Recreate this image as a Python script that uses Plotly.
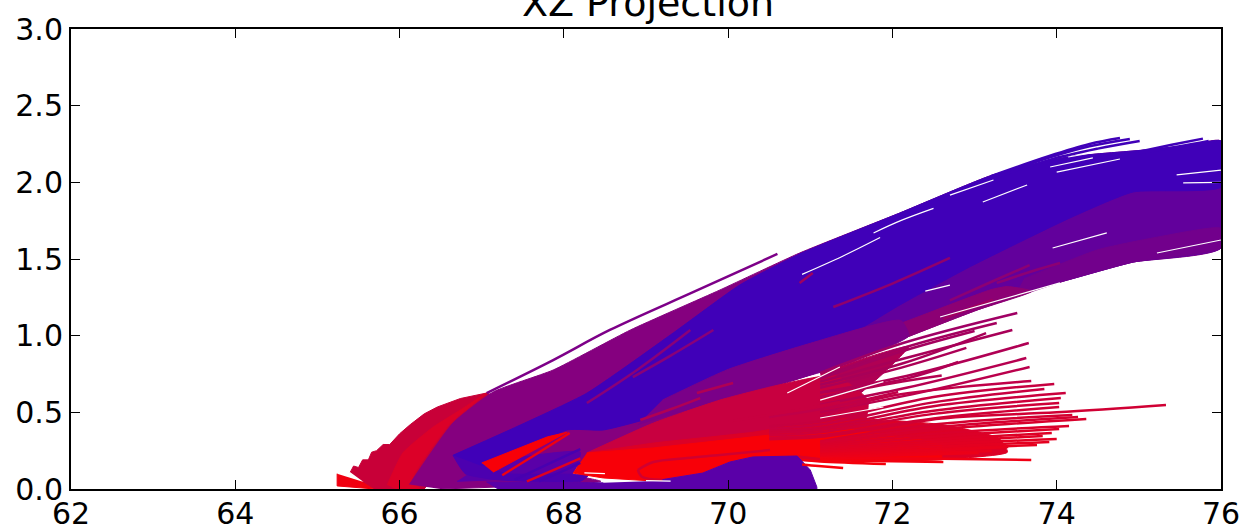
import plotly.graph_objects as go

X_TICKS = [62, 64, 66, 68, 70, 72, 74, 76]
Y_TICKS = [0, 0.5, 1, 1.5, 2, 2.5, 3]
Y_LABELS = ["0.0", "0.5", "1.0", "1.5", "2.0", "2.5", "3.0"]
TITLE = "XZ Projection"

# dense bundles of trajectories
HUMP_X = [65.40, 65.44, 65.50, 65.55, 65.62, 65.66, 65.72, 65.80, 65.88, 66.0, 66.13, 66.30, 66.46, 66.74, 67.06, 67.2, 66.6, 66.3, 65.7, 65.55]
HUMP_Y = [0.11, 0.15, 0.14, 0.19, 0.19, 0.24, 0.25, 0.29, 0.29, 0.36, 0.42, 0.49, 0.535, 0.59, 0.626, 0.6, 0.2, 0.0, 0.0, 0.05]
HUMP_RED_X = [65.85, 66.04, 66.41, 66.74, 67.06, 66.62, 66.15, 66.25, 65.95]
HUMP_RED_Y = [0.026, 0.235, 0.404, 0.515, 0.626, 0.43, 0.06, 0.0, 0.0]
SLIVER_X = [65.24, 65.24, 65.7, 65.72]
SLIVER_Y = [0.10, 0.02, 0.0, 0.02]

MAIN_X = [66.12, 66.65, 67.14, 67.87, 68.81, 69.9, 70.87, 72.09, 73.22, 74.13, 75.05, 75.6, 76, 76, 74.93, 74.13, 73.03, 72.09, 71.36, 69.9, 68.89, 68.3, 68.11, 68.45, 66.5]
MAIN_Y = [0.03, 0.43, 0.633, 0.776, 1.037, 1.298, 1.539, 1.80, 2.048, 2.165, 2.21, 2.24, 2.27, 1.572, 1.48, 1.363, 1.167, 0.972, 0.81, 0.55, 0.38, 0.22, 0.10, 0.05, 0.0]
VIOLET_X = [71.4, 72.09, 72.91, 74.13, 74.93, 76, 76, 74.93, 74.13, 73.6, 73.03, 72.09, 71.36]
VIOLET_Y = [1.0, 1.2, 1.44, 1.76, 1.937, 1.97, 1.572, 1.48, 1.363, 1.30, 1.27, 1.07, 0.92]
DEEP_PURPLE_X = [73.6, 74.5, 75.2, 76, 76, 74.93, 74.13, 73.5]
DEEP_PURPLE_Y = [1.37, 1.56, 1.64, 1.70, 1.572, 1.48, 1.363, 1.27]
BLUE_X = [66.65, 67.4, 68.28, 69.33, 70.14, 70.87, 72.09, 73.22, 74.13, 75.05, 75.6, 76, 76, 74.93, 74.13, 72.91, 72.09, 71.36, 69.9, 69.09, 68.48, 68.04, 67.06, 66.8]
BLUE_Y = [0.22, 0.40, 0.625, 1.017, 1.33, 1.533, 1.80, 2.048, 2.165, 2.21, 2.24, 2.27, 1.97, 1.937, 1.76, 1.44, 1.2, 0.97, 0.66, 0.47, 0.385, 0.385, 0.124, 0.10]
MAGENTA_X = [69.9, 71.36, 72.09, 73.03, 73.7, 73.4, 73.2, 72.1, 70.5]
MAGENTA_Y = [0.60, 0.81, 0.972, 1.167, 1.29, 1.32, 1.3, 1.08, 0.78]
LOW_PURPLE_X = [68.9, 69.9, 71.36, 72.2, 72.1, 71.0, 70.0, 69.2]
LOW_PURPLE_Y = [0.42, 0.58, 0.80, 1.0, 1.1, 0.95, 0.78, 0.58]
PURPLE_FAN_X = [66.7, 67.2, 67.7, 68.1, 68.2, 67.4, 66.9]
PURPLE_FAN_Y = [0.05, 0.06, 0.06, 0.1, 0.24, 0.2, 0.12]
HOOK_X = [66.65, 66.8, 67.2, 68.2, 68.3, 67.3, 67.0]
HOOK_Y = [0.22, 0.10, 0.06, 0.05, 0.09, 0.10, 0.15]

FAN_UPPER_X = [71.12, 71.7, 72.2, 71.9, 71.6, 71.2]
FAN_UPPER_Y = [0.757, 0.86, 0.93, 0.76, 0.62, 0.46]
FAN_TOP_X = [68.28, 69.09, 69.9, 70.63, 71.3, 71.7, 71.6, 70.87, 69.6, 68.6]
FAN_TOP_Y = [0.235, 0.43, 0.58, 0.68, 0.74, 0.58, 0.32, 0.24, 0.24, 0.22]
FAN_MID_X = [68.28, 69.1, 70.3, 71.36, 72.6, 73.3, 73.4, 72.5, 71.12, 70.3]
FAN_MID_Y = [0.235, 0.30, 0.37, 0.46, 0.42, 0.33, 0.24, 0.19, 0.18, 0.2]
FAN_LOW_X = [68.28, 69.09, 70.3, 71.36, 72.6, 72.6, 71.6, 70.87, 70.3, 70.02, 69.69, 69.09, 68.48, 68.11]
FAN_LOW_Y = [0.235, 0.268, 0.34, 0.40, 0.30, 0.19, 0.176, 0.222, 0.209, 0.176, 0.104, 0.052, 0.072, 0.104]
BLOB_X = [69.09, 69.69, 70.02, 70.3, 70.84, 71.0, 71.08, 71.08, 67.2, 67.06, 68.48]
BLOB_Y = [0.052, 0.104, 0.176, 0.209, 0.215, 0.124, 0.013, 0.0, 0.0, 0.046, 0.04]
TRI_X = [67.0, 67.8, 68.04, 67.14]
TRI_Y = [0.17, 0.34, 0.37, 0.11]

# individual trajectories: x values, y values, colour
STROKES = [
    ([67.06, 67.87, 68.56, 69.6, 70.6], [0.626, 0.841, 1.037, 1.29, 1.533], "#7d0088"),
    ([73.2, 73.9, 74.4, 74.77], [2.04, 2.17, 2.25, 2.289], "#4000b8"),
    ([73.2, 73.9, 74.4, 74.89], [2.03, 2.16, 2.235, 2.283], "#4000b8"),
    ([73.2, 73.9, 74.5, 75.01], [2.02, 2.145, 2.22, 2.27], "#4000b8"),
    ([75.0, 75.4, 75.78], [2.2, 2.245, 2.285], "#4000b8"),
    ([75.0, 75.5, 75.85], [2.19, 2.235, 2.27], "#4000b8"),
    ([67.25, 67.7, 68.07], [0.09, 0.24, 0.365], "#f00010"),
    ([67.4, 67.8, 68.2], [0.06, 0.16, 0.26], "#4800b0"),
    ([67.55, 67.9, 68.2], [0.05, 0.13, 0.2], "#e00020"),
    ([67.7, 68.0, 68.2], [0.05, 0.12, 0.17], "#4800b0"),
    ([68.9, 69.09, 69.5, 69.9, 70.51], [0.124, 0.176, 0.202, 0.222, 0.254], "#d00030"),
    ([68.9, 68.95, 69.2], [0.124, 0.08, 0.06], "#d00030"),
    ([68.28, 68.9, 69.54], [0.561, 0.78, 1.037], "#8a0078"),
    ([68.84, 69.3, 69.82], [0.73, 0.87, 1.037], "#8a0078"),
    ([69.62, 70.06], [0.626, 0.691], "#b00054"),
    ([68.93, 69.3, 69.66], [0.45, 0.52, 0.593], "#b00054"),
    ([70.87, 71.03], [1.343, 1.409], "#a00060"),
    ([71.28, 72.0, 72.7], [1.187, 1.34, 1.507], "#90006c"),
    ([72.7, 73.2, 73.67], [1.23, 1.35, 1.46], "#8c0074"),
    ([73.27, 73.7, 74.04], [1.344, 1.42, 1.474], "#8c0074"),
    ([72.62, 72.9, 73.22], [1.109, 1.17, 1.233], "#a00060"),
    # the sparse fan under the main bundle
    ([71.12, 72.13, 73.52], [0.757, 0.952, 1.148], "#a00064"),
    ([71.12, 72.13, 73.27], [0.725, 0.92, 1.083], "#a4005e"),
    ([71.12, 72.13, 73.0], [0.72, 0.90, 1.03], "#a4005e"),
    ([71.12, 72.13, 73.46], [0.70, 0.85, 1.037], "#a80058"),
    ([71.12, 72.13, 73.14], [0.68, 0.82, 1.017], "#a80058"),
    ([71.12, 72.1, 72.9], [0.66, 0.79, 0.92], "#ac0056"),
    ([71.12, 72.17, 73.66], [0.63, 0.737, 0.952], "#b00054"),
    ([71.12, 72.17, 73.63], [0.55, 0.66, 0.854], "#b60050"),
    ([71.12, 72.17, 72.80], [0.63, 0.72, 0.828], "#b00054"),
    ([71.12, 72.0, 72.6], [0.60, 0.69, 0.74], "#b40050"),
    ([71.12, 72.35, 73.67], [0.50, 0.63, 0.796], "#ba004c"),
    ([71.12, 71.92, 73.69], [0.47, 0.60, 0.704], "#c00048"),
    ([70.5, 71.12, 72.07], [0.47, 0.52, 0.633], "#c00048"),
    ([70.5, 71.12, 72.5, 73.97], [0.41, 0.44, 0.60, 0.685], "#c60040"),
    ([70.5, 71.12, 72.5, 73.85], [0.39, 0.42, 0.565, 0.652], "#c80040"),
    ([70.5, 71.12, 72.5, 74.11], [0.38, 0.40, 0.54, 0.626], "#ca003c"),
    ([70.5, 71.12, 72.5, 74.05], [0.365, 0.385, 0.51, 0.593], "#cc003a"),
    ([70.5, 71.12, 72.5, 74.03], [0.35, 0.37, 0.49, 0.561], "#ce0038"),
    ([70.5, 71.12, 72.5, 74.03], [0.335, 0.35, 0.46, 0.535], "#d00036"),
    ([70.5, 71.12, 72.6, 74.0, 75.33], [0.325, 0.34, 0.46, 0.50, 0.548], "#d00034"),
    ([70.0, 70.8, 71.36], [0.44, 0.51, 0.567], "#c80040"),
    ([71.12, 72.5, 74.19], [0.31, 0.42, 0.483], "#d40030"),
    ([71.12, 72.5, 74.26], [0.30, 0.40, 0.470], "#d60030"),
    ([71.12, 72.5, 74.36], [0.29, 0.385, 0.457], "#d8002c"),
    ([71.12, 72.5, 74.15], [0.28, 0.36, 0.411], "#da002a"),
    ([71.12, 72.5, 74.03], [0.27, 0.34, 0.391], "#dc0028"),
    ([71.12, 72.5, 73.94], [0.26, 0.32, 0.365], "#de0026"),
    ([71.12, 72.5, 73.83], [0.25, 0.305, 0.346], "#e00024"),
    ([71.12, 72.5, 74.0], [0.24, 0.29, 0.326], "#e20022"),
    ([71.12, 72.5, 73.91], [0.23, 0.275, 0.307], "#e40020"),
    ([71.12, 72.5, 73.76], [0.225, 0.26, 0.287], "#e6001e"),
    ([71.12, 72.5, 73.41], [0.22, 0.25, 0.274], "#e8001c"),
    ([71.12, 72.4, 73.21], [0.21, 0.235, 0.248], "#ea001a"),
    ([71.12, 72.4, 73.05], [0.205, 0.225, 0.235], "#ec0018"),
    ([71.12, 72.6, 73.69], [0.20, 0.197, 0.189], "#f00014"),
    ([71.12, 71.8, 72.62], [0.19, 0.183, 0.176], "#f20010"),
    ([70.9, 71.12, 71.92], [0.19, 0.18, 0.163], "#f4000c"),
    ([70.9, 71.1, 71.40], [0.16, 0.15, 0.137], "#f8000a"),
]

# thin openings left between neighbouring trajectories
GAPS = [
    ([70.9, 71.4, 71.85], [1.40, 1.52, 1.64]),
    ([71.77, 72.1, 72.5], [1.67, 1.75, 1.83]),
    ([72.7, 73.23], [1.917, 2.015]),
    ([73.1, 73.64], [1.872, 1.983]),
    ([73.92, 74.44], [2.10, 2.159]),
    ([74.0, 74.77], [2.067, 2.152]),
    ([74.14, 74.77], [2.165, 2.224]),
    ([73.95, 74.61], [1.572, 1.67]),
    ([75.22, 76.0], [1.539, 1.624]),
    ([72.58, 74.04], [1.122, 1.344]),
    ([75.46, 76.0], [2.048, 2.08]),
    ([75.54, 76.0], [1.996, 2.0]),
    ([72.4, 72.7], [1.29, 1.33]),
    ([68.25, 68.5], [0.105, 0.10]),
    ([69.0, 69.3], [0.055, 0.052]),
    ([71.12, 71.89], [0.58, 0.70]),
    ([71.12, 71.89], [0.463, 0.535]),
    ([70.72, 71.36], [0.626, 0.796]),
]

BANDS = [
    (SLIVER_X, SLIVER_Y, "#f00010", "linear"),
    (HUMP_X, HUMP_Y, "#c80038", "linear"),
    (HUMP_RED_X, HUMP_RED_Y, "#dc0028", "spline"),
    (MAIN_X, MAIN_Y, "#85007f", "spline"),
    (VIOLET_X, VIOLET_Y, "#62009c", "spline"),
    (DEEP_PURPLE_X, DEEP_PURPLE_Y, "#72008c", "spline"),
    (MAGENTA_X, MAGENTA_Y, "#8c0074", "spline"),
    (BLUE_X, BLUE_Y, "#4000b8", "spline"),
    (LOW_PURPLE_X, LOW_PURPLE_Y, "#7a0088", "spline"),
    (PURPLE_FAN_X, PURPLE_FAN_Y, "#5a00a8", "spline"),
    (HOOK_X, HOOK_Y, "#4c00b0", "spline"),
    (FAN_UPPER_X, FAN_UPPER_Y, "#b00054", "spline"),
    (FAN_TOP_X, FAN_TOP_Y, "#c80040", "spline"),
    (FAN_MID_X, FAN_MID_Y, "#dc0026", "spline"),
    (FAN_LOW_X, FAN_LOW_Y, "#f80008", "linear"),
    (TRI_X, TRI_Y, "#f80008", "linear"),
    (BLOB_X, BLOB_Y, "#5a00a8", "linear"),
]

fig = go.Figure()
for xs, ys, colour, shape in BANDS:
    fig.add_trace(go.Scatter(x=xs, y=ys, mode="lines", fill="toself", fillcolor=colour,
                             line=dict(color=colour, width=1, shape=shape, smoothing=0.5), hoverinfo="skip"))
for xs, ys, colour in STROKES:
    fig.add_trace(go.Scatter(x=xs, y=ys, mode="lines", line=dict(color=colour, width=2.5, shape="spline"),
                             hoverinfo="skip"))
for xs, ys in GAPS:
    fig.add_trace(go.Scatter(x=xs, y=ys, mode="lines", line=dict(color="white", width=1.2, shape="spline"),
                             hoverinfo="skip"))

FONT = "DejaVu Sans"
axis = dict(showgrid=False, zeroline=False, showline=True, linecolor="black", linewidth=2,
            mirror="allticks", ticks="inside", ticklen=9, tickwidth=1, tickcolor="black",
            layer="above traces", tickfont=dict(family=FONT, size=30, color="black"))
fig.update_layout(
    width=1245, height=531, showlegend=False, paper_bgcolor="white", plot_bgcolor="white",
    margin=dict(l=71, r=24, t=29, b=42, autoexpand=False),
    title=dict(text=TITLE, x=648 / 1245, xanchor="center", y=1 - 16 / 531, yanchor="bottom",
               font=dict(family=FONT, size=38, color="black"), pad=dict(t=0, b=0)),
    xaxis=dict(axis, range=[62, 76], tickvals=X_TICKS, ticktext=[str(v) for v in X_TICKS], ticklabelstandoff=-3),
    yaxis=dict(axis, range=[0, 3], tickvals=Y_TICKS, ticktext=Y_LABELS),
)
fig.write_html("out.html", config={"displayModeBar": False},
               post_script="document.body.style.margin='0';document.body.style.overflow='hidden';")
